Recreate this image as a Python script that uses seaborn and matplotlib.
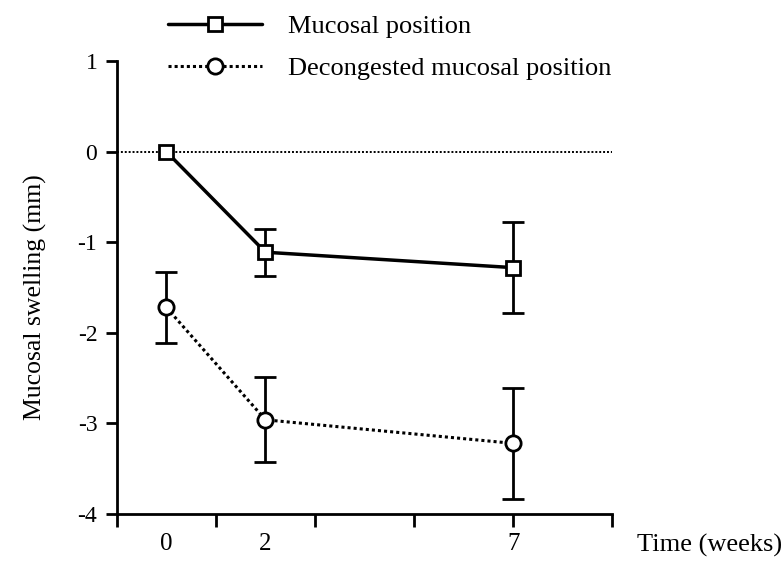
import matplotlib
matplotlib.use("Agg")
import matplotlib.pyplot as plt
import seaborn as sns
import pandas as pd

weeks = [0, 2, 7]
mucosal = [0.0, -1.11, -1.28]
mucosal_err = [0.0, 0.26, 0.50]
decongested = [-1.72, -2.96, -3.22]
decongested_err = [0.39, 0.47, 0.61]
labels = ["Mucosal position", "Decongested mucosal position"]
xtick_labels = ["0", "2", "7"]
yticks = [-4, -3, -2, -1, 0, 1]

sns.set_style("ticks", {"axes.edgecolor": "black", "text.color": "black",
                        "axes.labelcolor": "black", "xtick.color": "black",
                        "ytick.color": "black"})
plt.rcParams['font.family'] = ['Liberation Serif', 'DejaVu Serif']

fig = plt.figure(figsize=(7.84, 5.71), dpi=100)
ax = fig.add_axes([0.149, 0.0998, 0.632, 0.7932])

df1 = pd.DataFrame({"week": weeks, "val": mucosal})
df2 = pd.DataFrame({"week": weeks, "val": decongested})

ax.axhline(0, color="black", lw=1.4, ls=(0, (1, 1)), zorder=1)

ax.errorbar(weeks[1:], mucosal[1:], yerr=mucosal_err[1:], fmt="none", ecolor="black",
            elinewidth=2, capsize=8, capthick=2, zorder=2)
ax.errorbar(weeks, decongested, yerr=decongested_err, fmt="none", ecolor="black",
            elinewidth=2, capsize=8, capthick=2, zorder=2)

sns.lineplot(data=df1, x="week", y="val", ax=ax, color="black", lw=2.5,
             marker="s", markersize=10.5, markerfacecolor="white",
             markeredgecolor="black", markeredgewidth=2, label=labels[0], zorder=3)
sns.lineplot(data=df2, x="week", y="val", ax=ax, color="black", lw=2.2,
             linestyle=(0, (1, 1)), marker="o", markersize=11, markerfacecolor="white",
             markeredgecolor="black", markeredgewidth=2, label=labels[1], zorder=3)

ax.set_xlim(-1, 9)
ax.set_ylim(-4, 1)
ax.xaxis.remove_overlapping_locs = False
ax.set_xticks([-1, 1, 3, 5, 7, 9])
ax.set_xticklabels([])
ax.set_xticks(weeks, minor=True)
ax.set_xticklabels(xtick_labels, minor=True)
ax.tick_params(axis="x", which="major", length=9, width=2, direction="out", color="black")
ax.tick_params(axis="x", which="minor", length=0, pad=14, labelsize=18, labelcolor="black")
ax.set_yticks(yticks)
ax.set_yticklabels([str(v) for v in yticks])
ax.tick_params(axis="y", length=8, width=2, direction="out", labelsize=17, pad=6,
               color="black", labelcolor="black")

for s in ["top", "right"]:
    ax.spines[s].set_visible(False)
for s in ["left", "bottom"]:
    ax.spines[s].set_linewidth(2)
    ax.spines[s].set_color("black")

ax.set_xlabel("")
ax.set_ylabel("Mucosal swelling (mm)", fontsize=18.5, color="black")
ax.yaxis.set_label_coords(-0.14, 0.479)
fig.text(0.812, 0.044, "Time (weeks)", fontsize=19, ha="left", va="center", color="black")

handles, labs = ax.get_legend_handles_labels()
ax.get_legend().remove()
leg = fig.legend(handles, labs, loc="center left", bbox_to_anchor=(0.214, 0.917),
                 frameon=False, fontsize=19, handlelength=3.56, handletextpad=1.0,
                 labelspacing=0.7, borderpad=0, borderaxespad=0)
for t in leg.get_texts():
    t.set_color("black")

fig.savefig("out.png", dpi=100)
